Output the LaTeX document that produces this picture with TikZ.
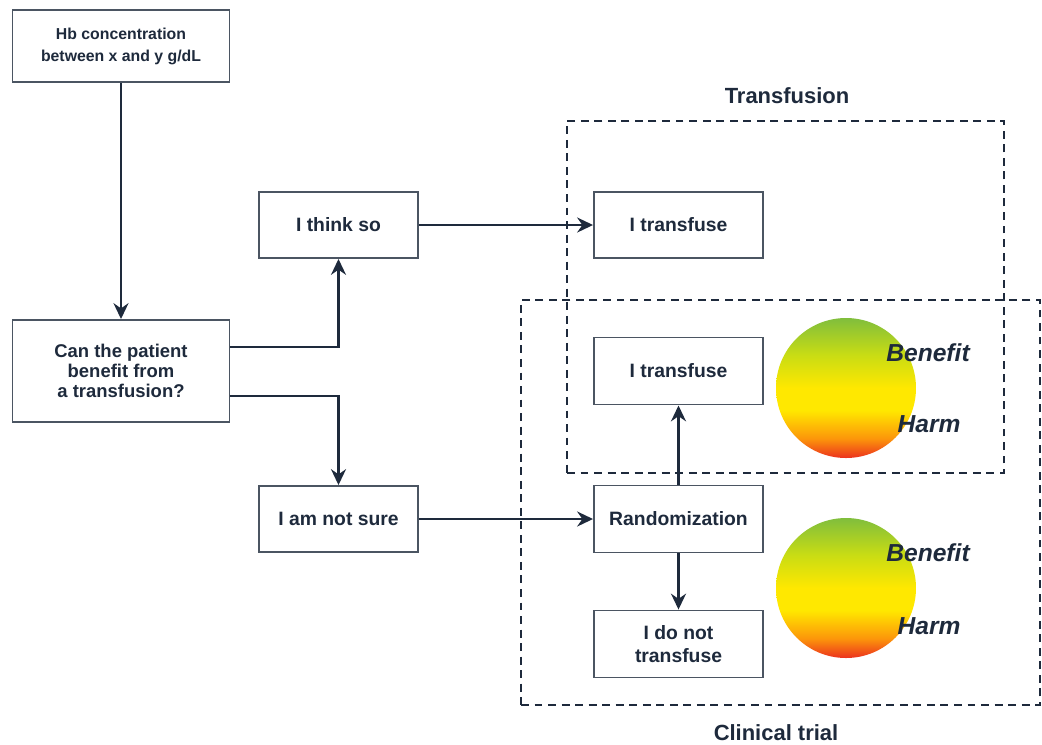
\documentclass[tikz,border=0pt]{standalone}
\usepackage{fontspec}
\setmainfont{Liberation Sans}
\usetikzlibrary{arrows.meta, positioning, calc}
\definecolor{inknavy}{RGB}{30,42,60}
\definecolor{boxgray}{RGB}{75,85,98}
\definecolor{bengreen}{RGB}{128,190,60}
\definecolor{limegreen}{RGB}{200,220,20}
\definecolor{midyellow}{RGB}{255,232,0}
\definecolor{harmorange}{RGB}{252,150,10}
\definecolor{harmred}{RGB}{236,50,30}
\pgfdeclareverticalshading{benharm}{100bp}{color(0bp)=(harmred); color(25bp)=(harmred);
  color(32bp)=(harmorange); color(42bp)=(midyellow); color(50bp)=(midyellow);
  color(62bp)=(limegreen); color(75bp)=(bengreen); color(100bp)=(bengreen)}
\tikzset{
  stepbox/.style={rectangle, draw=boxgray, line width=1.1pt, fill=white, text=inknavy,
    font=\fontsize{11}{13}\selectfont\bfseries, align=center,
    minimum width=33.8mm, minimum height=13.4mm, inner sep=1pt},
  frame/.style={rectangle, draw=inknavy, line width=1.2pt, dash pattern=on 4.5pt off 3.2pt},
  ttl/.style={font=\fontsize{12.5}{14}\selectfont\bfseries, text=inknavy},
  ball/.style={circle, minimum size=28mm, inner sep=0pt, shading=benharm},
  bh/.style={font=\fontsize{14}{16}\selectfont\bfseries\itshape, text=inknavy},
  arrow/.style={-{Stealth[length=9pt, width=8.5pt]}, line width=1.5pt, inknavy}
}
\begin{document}
\begin{tikzpicture}
  \useasboundingbox (0,0) rectangle (208.4mm,-148.8mm);
  % frames behind the boxes
  \node[frame, minimum width=87.4mm, minimum height=70.4mm] (tfbox) at (157.1mm,-59.4mm) {};
  \node[frame, minimum width=103.8mm, minimum height=81mm] (ctbox) at (156.1mm,-100.5mm) {};
  \node[ttl] (tftitle) at (157.4mm,-19.2mm) {Transfusion};
  \node[ttl] (cttitle) at (155.2mm,-146.6mm) {Clinical trial};
  % decision boxes
  \node[stepbox, minimum width=43.4mm, minimum height=14.4mm, font=\fontsize{9}{12.5}\selectfont\bfseries] (hb) at (24.2mm,-9.2mm) {Hb concentration\\between x and y g/dL};
  \node[stepbox, minimum width=43.4mm, minimum height=20.4mm, font=\fontsize{10.5}{11.2}\selectfont\bfseries] (can) at (24.2mm,-74.2mm) {Can the patient\\benefit from\\a transfusion?};
  \node[stepbox, minimum width=31.8mm, minimum height=13.2mm] (think) at (67.7mm,-45mm) {I think so};
  \node[stepbox, minimum width=31.8mm, minimum height=13.2mm] (unsure) at (67.7mm,-103.8mm) {I am not sure};
  \node[stepbox, minimum height=13.2mm] (tfyes) at (135.7mm,-45mm) {I transfuse};
  \node[stepbox] (tfarm) at (135.7mm,-74.2mm) {I transfuse};
  \node[stepbox] (rand) at (135.7mm,-103.8mm) {Randomization};
  \node[stepbox] (noarm) at (135.7mm,-128.8mm) {I do not\\transfuse};
  % benefit / harm balls
  \node[ball] (ball1) at (169.2mm,-77.6mm) {};
  \node[ball] (ball2) at (169.2mm,-117.6mm) {};
  \node[bh] (ben1) at (185.6mm,-70.6mm) {Benefit};
  \node[bh] (harm1) at (185.8mm,-84.8mm) {Harm};
  \node[bh] (ben2) at (185.6mm,-110.6mm) {Benefit};
  \node[bh] (harm2) at (185.8mm,-125.2mm) {Harm};
  % connectors
  \draw[arrow] (hb) -- (can);
  \draw[arrow] ([yshift=4.8mm]can.east) -| (think.south);
  \draw[arrow] ([yshift=-5mm]can.east) -| (unsure.north);
  \draw[arrow] (think) -- (tfyes);
  \draw[arrow] (unsure) -- (rand);
  \draw[arrow] (rand) -- (tfarm);
  \draw[arrow] (rand) -- (noarm);
\end{tikzpicture}
\end{document}
